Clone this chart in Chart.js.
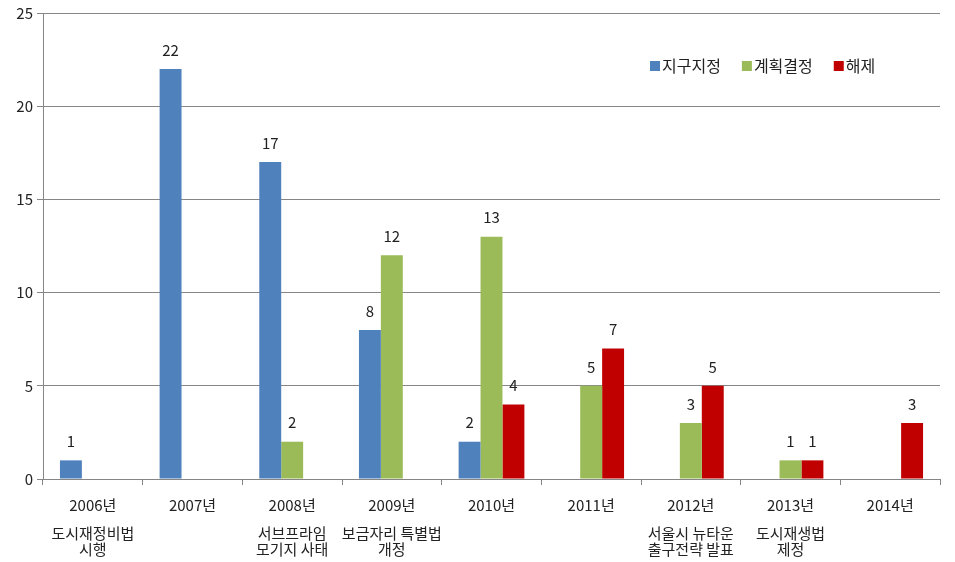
<!DOCTYPE html>
<html lang="ko">
<head>
    <meta charset="UTF-8">
    <title>연도별 지구지정 / 계획결정 / 해제</title>
    <style>
        body { margin: 0; background: #fff; }
        .wrap { width: 955px; height: 562px; }
    </style>
    <script src="https://cdn.jsdelivr.net/npm/chart.js"></script>
</head>
<body>
    <div class="wrap"><canvas id="chart" width="955" height="562"></canvas></div>

    <script>
        // data
        const years = ['2006년', '2007년', '2008년', '2009년', '2010년', '2011년', '2012년', '2013년', '2014년'];
        const events = [
            ['도시재정비법', '시행'],
            [],
            ['서브프라임', '모기지 사태'],
            ['보금자리 특별법', '개정'],
            [],
            [],
            ['서울시 뉴타운', '출구전략 발표'],
            ['도시재생법', '제정'],
            []
        ];
        const seriesNames = ['지구지정', '계획결정', '해제'];
        const designation = [1, 22, 17, 8, 2, 0, 0, 0, 0];
        const planDecision = [0, 0, 2, 12, 13, 5, 3, 1, 0];
        const release = [0, 0, 0, 0, 4, 7, 5, 1, 3];
        const colors = ['#4F81BD', '#9BBB59', '#C00000'];
        const yTicks = [0, 5, 10, 15, 20, 25];

        const FONT = '"Noto Sans CJK KR", "Noto Sans", sans-serif';
        const GRID = '#868686';

        // numbers over bars (zero values are left out)
        const valueLabels = {
            id: 'valueLabels',
            afterDatasetsDraw(chart) {
                const ctx = chart.ctx;
                ctx.save();
                ctx.font = '15px ' + FONT;
                ctx.fillStyle = '#222';
                ctx.textAlign = 'center';
                ctx.textBaseline = 'middle';
                chart.data.datasets.forEach((ds, i) => {
                    chart.getDatasetMeta(i).data.forEach((bar, j) => {
                        if (ds.data[j] > 0) {
                            ctx.fillText(ds.data[j], bar.x, bar.y - 19);
                        }
                    });
                });
                ctx.restore();
            }
        };

        // second and third lines under the year labels
        const eventLabels = {
            id: 'eventLabels',
            afterDraw(chart) {
                const ctx = chart.ctx;
                const xs = chart.scales.x;
                ctx.save();
                ctx.font = '15px ' + FONT;
                ctx.fillStyle = '#222';
                ctx.textAlign = 'center';
                ctx.textBaseline = 'middle';
                events.forEach((lines, i) => {
                    const x = xs.getPixelForValue(i);
                    lines.forEach((t, k) => ctx.fillText(t, x, 533 + k * 16));
                });
                ctx.restore();
            }
        };

        // legend sits inside the plot, top right
        const insideLegend = {
            id: 'insideLegend',
            afterDraw(chart) {
                const ctx = chart.ctx;
                ctx.save();
                ctx.font = '16px ' + FONT;
                ctx.textBaseline = 'middle';
                ctx.textAlign = 'left';
                let x = 650;
                const y = 66;
                chart.data.datasets.forEach((ds) => {
                    ctx.fillStyle = ds.backgroundColor;
                    ctx.fillRect(x, y - 5, 10, 10);
                    ctx.fillStyle = '#222';
                    ctx.fillText(ds.label, x + 12, y);
                    x += 12 + ctx.measureText(ds.label).width + 21;
                });
                ctx.restore();
            }
        };

        new Chart(document.getElementById('chart'), {
            type: 'bar',
            data: {
                labels: years,
                datasets: [
                    { label: seriesNames[0], data: designation, backgroundColor: colors[0] },
                    { label: seriesNames[1], data: planDecision, backgroundColor: colors[1] },
                    { label: seriesNames[2], data: release, backgroundColor: colors[2] }
                ]
            },
            options: {
                responsive: false,
                animation: false,
                categoryPercentage: 0.66,
                barPercentage: 1,
                layout: { padding: { top: 12, right: 15, left: 0, bottom: 0 } },
                plugins: {
                    legend: { display: false },
                    tooltip: { enabled: false }
                },
                scales: {
                    x: {
                        grid: {
                            offset: true,
                            drawOnChartArea: false,
                            drawTicks: true,
                            tickLength: 6,
                            color: GRID
                        },
                        border: { color: GRID },
                        ticks: {
                            font: { family: FONT, size: 15 },
                            color: '#222',
                            padding: 11,
                            maxRotation: 0
                        },
                        afterFit(scale) { scale.height = 83; }
                    },
                    y: {
                        min: 0,
                        max: 25,
                        afterBuildTicks(scale) {
                            scale.ticks = yTicks.map(v => ({ value: v }));
                        },
                        grid: { color: GRID, tickLength: 6 },
                        border: { color: GRID },
                        ticks: {
                            font: { family: FONT, size: 15 },
                            color: '#222',
                            padding: 4
                        },
                        afterFit(scale) { scale.width = 43; }
                    }
                }
            },
            plugins: [valueLabels, eventLabels, insideLegend]
        });
    </script>
</body>
</html>
